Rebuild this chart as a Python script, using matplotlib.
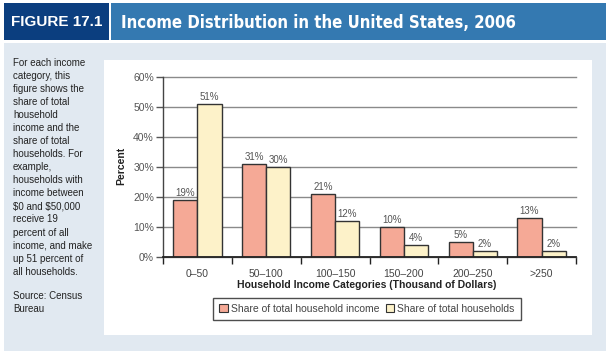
import matplotlib
matplotlib.use("Agg")
import matplotlib.pyplot as plt
from matplotlib.patches import Rectangle, Patch
from matplotlib.ticker import FixedLocator
from matplotlib import font_manager
from matplotlib.font_manager import FontProperties

# ---- data ----
categories = ["0\u201350", "50\u2013100", "100\u2013150", "150\u2013200", "200\u2013250", ">250"]
income_share = [19, 31, 21, 10, 5, 13]
household_share = [51, 30, 12, 4, 2, 2]
series_names = ["Share of total household income", "Share of total households"]
y_ticks = [0, 10, 20, 30, 40, 50, 60]
y_tick_labels = [f"{v}%" for v in y_ticks]

W, H = 608, 354
fig = plt.figure(figsize=(W / 100, H / 100), dpi=100)
fig.patch.set_facecolor("white")

ttf = font_manager.fontManager.ttflist
names = {f.name for f in ttf}
BASE = "Liberation Sans" if "Liberation Sans" in names else "DejaVu Sans"
plt.rcParams["font.family"] = [BASE, "DejaVu Sans"]

# condensed bold font for the title if one is installed
title_fp = None
for f in ttf:
    st = str(f.stretch).lower()
    if ("condensed" in st or "narrow" in f.name.lower() or "condensed" in f.name.lower()) \
            and (f.weight in ("bold", 700) or str(f.weight) in ("bold", "700")):
        title_fp = FontProperties(fname=f.fname)
        break
if title_fp is None:
    title_fp = FontProperties(family=[BASE, "DejaVu Sans"], weight="bold")


def fx(px):
    return px / W


def fy(py):
    return 1 - py / H


def frect(x0, y0, x1, y1, color):
    fig.add_artist(Rectangle((fx(x0), fy(y1)), fx(x1) - fx(x0), fy(y0) - fy(y1),
                             transform=fig.transFigure, facecolor=color,
                             edgecolor="none", zorder=0))


DARK = "#0b3e7f"
MID = "#3479b1"
LIGHT = "#e1e9f1"

# header
frect(4, 3, 109, 40, DARK)
frect(111, 3, 606, 40, MID)
# light background and white panel
frect(4, 43, 606, 351, LIGHT)
frect(104, 60, 592, 335, "white")

fig.text(fx(57), fy(22), "FIGURE 17.1", color="white", fontsize=11,
         fontweight="bold", ha="center", va="center")
title = fig.text(fx(121), fy(23), "Income Distribution in the United States, 2006",
                 color="white", ha="left", va="center", fontproperties=title_fp)
title.set_fontsize(15)
renderer = fig.canvas.get_renderer()
tw = title.get_window_extent(renderer).width
title.set_fontsize(min(17, 15 * 396 / tw))

side_text = ("For each income\ncategory, this\nfigure shows the\nshare of total\nhousehold\n"
             "income and the\nshare of total\nhouseholds. For\nexample,\nhouseholds with\n"
             "income between\n\\$0 and \\$50,000\nreceive 19\npercent of all\nincome, and make\n"
             "up 51 percent of\nall households.")
fig.text(fx(13), fy(58), side_text, color="#222222", fontsize=7, ha="left", va="top",
         linespacing=1.38)
fig.text(fx(13), fy(291), "Source: Census\nBureau", color="#222222", fontsize=7,
         ha="left", va="top", linespacing=1.38)

# axes
ax_l, ax_r, ax_t, ax_b = 163, 576, 76.7, 256.7
ax = fig.add_axes([fx(ax_l), fy(ax_b), fx(ax_r) - fx(ax_l), fy(ax_t) - fy(ax_b)])
ax.set_facecolor("none")

n = len(categories)
xs = list(range(n))
w = 0.35
pink = "#f5a996"
yellow = "#fdf2c9"
b1 = ax.bar([x - w / 2 for x in xs], income_share, w, color=pink, edgecolor="#333333",
            linewidth=1.0, zorder=3)
b2 = ax.bar([x + w / 2 for x in xs], household_share, w, color=yellow, edgecolor="#333333",
            linewidth=1.0, zorder=3)

for bars, vals in ((b1, income_share), (b2, household_share)):
    for r, v in zip(bars, vals):
        ax.annotate(f"{v}%", (r.get_x() + r.get_width() / 2, v), xytext=(0, 1.5),
                    textcoords="offset points", ha="center", va="bottom",
                    fontsize=7, color="#555555")

ax.set_xlim(-0.5, n - 0.5)
ax.set_ylim(0, 60)
ax.set_yticks(y_ticks)
ax.set_yticklabels(y_tick_labels)
ax.yaxis.grid(True, color="#8a8a8a", linewidth=1.0, zorder=0)
for gl in ax.get_ygridlines():
    gl.set_clip_on(False)
ax.set_xticks(xs)
ax.set_xticklabels(categories)
ax.xaxis.set_minor_locator(FixedLocator([x - 0.5 for x in range(n + 1)]))
ax.tick_params(axis="x", which="major", length=0, pad=9, labelsize=7.5, labelcolor="#444444")
ax.tick_params(axis="x", which="minor", length=5, width=1.0, color="#222222")
ax.tick_params(axis="y", length=5, width=1.0, color="#555555", labelsize=7.5,
               labelcolor="#555555", pad=1.5)
for s in ("top", "right"):
    ax.spines[s].set_visible(False)
ax.spines["left"].set_color("#444444")
ax.spines["left"].set_linewidth(1.0)
ax.spines["bottom"].set_color("#222222")
ax.spines["bottom"].set_linewidth(1.3)
ax.spines["bottom"].set_zorder(4)

fig.text(fx(367), fy(285), "Household Income Categories (Thousand of Dollars)",
         fontsize=7.5, fontweight="bold", color="#222222", ha="center", va="center")
fig.text(fx(121), fy(166), "Percent", fontsize=7.5, fontweight="bold", color="#222222",
         ha="center", va="center", rotation=90)

handles = [Patch(facecolor=pink, edgecolor="#333333", linewidth=0.8),
           Patch(facecolor=yellow, edgecolor="#333333", linewidth=0.8)]
leg = fig.legend(handles, series_names, loc="center", bbox_to_anchor=(fx(367), fy(309)),
                 ncol=2, fontsize=7.5, frameon=True, fancybox=False, handlelength=0.8,
                 handleheight=0.8, handletextpad=0.3, columnspacing=0.6,
                 borderpad=0.6, labelcolor="#444444")
leg.get_frame().set_edgecolor("#222222")
leg.get_frame().set_linewidth(1.0)

fig.savefig("out.png", dpi=100, facecolor="white")
